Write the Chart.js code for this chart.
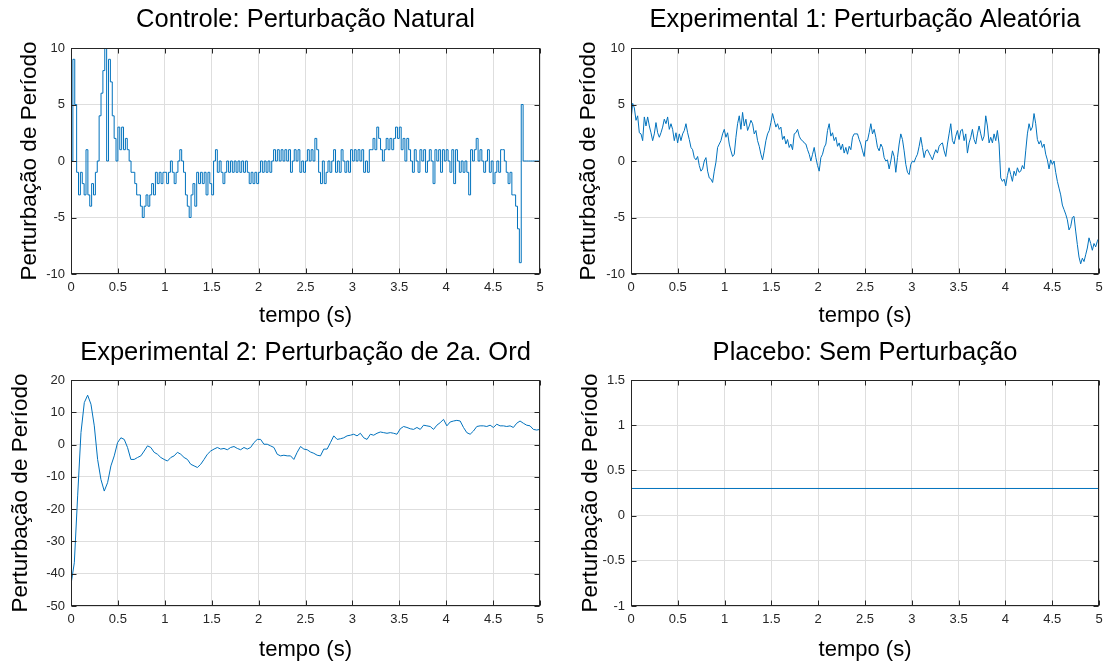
<!DOCTYPE html>
<html>
<head>
<meta charset="utf-8">
<script src="https://cdn.jsdelivr.net/npm/chart.js@4.4.1/dist/chart.umd.min.js"></script>
<style>
  html, body { margin: 0; padding: 0; background: #fff; }
  #wrap { position: relative; width: 1106px; height: 666px; overflow: hidden; }
  canvas { position: absolute; }
</style>
</head>
<body>
<div id="wrap">
  <!-- each canvas gets an empty right axis as wide as the left one, so the title centres on the plot box -->
  <canvas id="c1" width="611" height="333" style="left:0;top:0"></canvas>
  <canvas id="c2" width="624" height="333" style="left:553px;top:0"></canvas>
  <canvas id="c3" width="611" height="333" style="left:0;top:333px"></canvas>
  <canvas id="c4" width="624" height="333" style="left:553px;top:333px"></canvas>
</div>
<script>
// Panel titles and axis labels
const PANEL_TITLES = [
  'Controle: Perturbação Natural',
  'Experimental 1: Perturbação Aleatória',
  'Experimental 2: Perturbação de 2a. Ord',
  'Placebo: Sem Perturbação'
];
const X_LABEL = 'tempo (s)';
const Y_LABEL = 'Perturbação de Período';

// Tick labels
const X_TICKS = [0, 0.5, 1, 1.5, 2, 2.5, 3, 3.5, 4, 4.5, 5];
const Y_TICKS_10 = [-10, -5, 0, 5, 10];
const Y_TICKS_50 = [-50, -40, -30, -20, -10, 0, 10, 20];
const Y_TICKS_PLACEBO = [-1, -0.5, 0, 0.5, 1, 1.5];

// Controle: samples every 0.02 s (integer steps)
const CONTROLE_DT = 0.02;
const CONTROLE_Y = [
  0, 9, 5, -1, -3, -1, -2, -3, 1, -3,
  -4, -2, -3, -1, 0, 4, 6, 8, 10, 0,
  9, 7, 4, 2, 0, 3, 1, 3, 1, 2,
  1, 0, -1, -1, -2, -3, -3, -4, -5, -4,
  -3, -4, -3, -2, -3, -1, -2, -1, -2, -1,
  -1, -2, -1, 0, -1, -2, -1, 0, 1, 0,
  -1, -3, -4, -5, -3, -2, -4, -1, -2, -1,
  -2, -1, -3, -1, -2, -3, 0, 1, -1, 0,
  -1, -2, -1, 0, -1, 0, -1, 0, -1, 0,
  -1, 0, -1, 0, -1, -2, -1, -2, -1, -2,
  -1, 0, -1, 0, -1, 0, -1, 0, 1, 0,
  1, 0, 1, 0, 1, 0, 1, -1, 0, 1,
  0, 1, -1, 0, -1, 0, 1, 0, 1, 0,
  2, 1, -1, -2, 0, -2, -1, 0, -1, 0,
  1, -1, 0, -1, 1, 0, -1, 0, -1, 1,
  0, 1, 0, 1, 0, 1, -1, 0, -1, 1,
  1, 2, 1, 3, 2, 1, 0, 1, 2, 1,
  2, 1, 2, 3, 2, 3, 1, 2, 0, 2,
  1, 0, -1, 1, 0, -1, 1, 0, 1, -1,
  0, 1, 0, -2, 1, 0, 1, -1, 1, 0,
  1, 0, -1, 1, -2, 1, 0, -1, 0, -1,
  0, -1, -3, 1, 0, 1, 2, 0, 1, 0,
  -1, 0, 1, -1, 0, -2, -1, 0, -1, 1,
  1, 0, -1, -2, -1, -3, -3, -4, -6, -9,
  5, 0, 0, 0, 0, 0, 0, 0, 0, 0, 0
];

// Experimental 1: evenly sampled over 0..5 s
const ALEATORIA_Y = [
  3.6, 5.1, 4.7, 3.6, 4.0, 2.5, 2.4, 1.8, 3.9, 3.1,
  3.9, 3.1, 2.5, 1.8, 2.4, 3.4, 2.5, 2.1, 2.5, 3.0,
  3.7, 3.3, 3.9, 2.8, 3.3, 2.8, 1.8, 2.5, 1.6, 2.4,
  1.8, 2.4, 2.7, 3.3, 2.5, 1.9, 1.2, 1.0, 0.3, 0.1,
  0.4, -0.4, -0.9, -0.7, 0.0, 0.3, -0.9, -1.5, -1.6, -1.9,
  -0.9, -0.1, 1.2, 1.5, 1.8, 2.4, 2.8, 2.1, 2.5, 1.5,
  0.9, 0.4, 0.6, 2.1, 3.3, 4.0, 2.8, 4.3, 3.1, 3.7,
  2.7, 3.1, 3.6, 3.3, 2.4, 2.7, 1.8, 1.3, 0.6, 0.1,
  0.9, 1.8, 2.4, 2.7, 3.4, 4.2, 3.6, 3.0, 3.3, 2.8,
  3.0, 1.9, 2.2, 1.5, 1.9, 1.2, 1.5, 1.0, 2.4, 2.5,
  2.8, 2.2, 1.9, 1.8, 1.6, 1.5, 1.0, 0.6, 0.0, 0.6,
  1.2, 0.3, -0.4, -0.9, 0.3, 0.6, 1.2, 1.5, 2.7, 3.3,
  2.2, 2.5, 1.8, 2.1, 1.3, 1.6, 1.0, 1.5, 0.7, 1.2,
  0.6, 1.3, 1.0, 2.1, 2.4, 2.4, 2.4, 1.9, 1.5, 0.9,
  0.4, 1.8,
  1.8, 2.5, 3.3, 2.4, 2.8, 2.1, 1.2, 0.9, 1.5, 1.2,
  0.3, 0.0, 0.1, -0.7, 0.0, 0.9, 0.4, -1.0, 0.3, 1.5,
  2.4, 1.9, 0.9, -0.3, -1.0, -1.2, -0.3, 0.0, -0.1, 0.3,
  0.6, 1.3, 2.1, 1.2, 0.3, 0.9, 1.0, 0.7, 0.4, 0.1,
  0.6, 1.0, 0.7, 1.3, 1.5, 1.6, 0.9, 0.4, 1.5, 2.4,
  3.3, 1.8, 1.5, 2.2, 2.7, 1.9, 2.7, 2.8, 1.8, 2.4,
  0.7, 1.6, 2.1, 2.8, 1.9, 1.5, 2.4, 3.1, 2.4, 1.8,
  2.2, 4.0, 3.1, 1.6, 2.1, 1.6, 2.4, 1.8, 2.7, 1.5,
  -1.5, -1.8, -1.6, -2.2, -1.3, -0.6, -1.2, -1.8, -0.9, -1.3,
  -0.6, -1.0, -0.9, -0.4, -0.7, 0.9, 2.4, 3.3, 2.7, 3.0,
  4.2, 3.3, 1.9, 1.5, 1.8, 1.2, 1.5, 0.6, 0.1, -0.7,
  0.1, -0.3, 0.0, -1.0, -1.8, -2.4, -3.0, -3.9, -4.3, -4.7,
  -5.2, -6.1, -5.8, -5.0, -4.9, -6.2, -7.4, -8.5, -9.1, -8.6,
  -8.9, -8.3, -7.7, -6.8, -7.3, -7.9, -7.3, -7.6, -7.1, -6.8
];

// Experimental 2: evenly sampled over 0..5 s
const SEGUNDA_ORDEM_Y = [
  -43.3, -36.6, -15.9, 3.7, 13.0, 15.3, 12.5, 5.8, -4.6, -10.8,
  -14.4, -11.8, -6.6, -3.5, 0.6, 2.1, 1.6, -0.9, -4.6, -4.6,
  -4.0, -3.5, -2.0, -0.4, -0.9, -2.4, -3.0, -4.0, -4.6, -5.1,
  -4.0, -3.5, -2.4, -3.0, -4.0, -4.6, -6.1, -6.6, -7.1, -6.1,
  -4.6, -3.0, -2.0, -1.4, -0.9, -1.4, -1.2, -1.6, -0.9, -0.6,
  -1.2, -1.6, -0.9, -1.4, -0.9, 0.6, 1.6, 1.6, 0.1, 0.1,
  -0.4, -0.9, -3.0, -3.5, -3.3, -3.5, -3.5, -4.6, -2.4, -0.6,
  -1.4,
  -1.6, -2.3, -2.7, -3.3, -3.5, -1.4, -1.4, 0.6, 2.7, 1.6,
  1.8, 2.1, 2.7, 2.9, 3.2, 2.7, 3.5, 2.1, 1.6, 3.2,
  2.9, 3.5, 3.9, 3.7, 3.5, 3.7, 3.5, 3.2, 4.9, 5.6,
  5.3, 4.9, 4.7, 5.3, 4.7, 6.0, 5.8, 5.6, 4.7, 6.0,
  6.8, 7.8, 5.8, 7.0, 7.3, 7.5, 7.3, 5.3, 3.7, 3.2,
  4.2, 5.6, 5.8, 5.8, 5.6, 6.0, 5.3, 6.3, 5.8, 5.8,
  5.6, 5.8, 5.3, 6.6, 7.3, 6.6, 6.0, 5.8, 4.7, 4.5,
  4.7
];

// Placebo: constant
const PLACEBO_T = [0, 5];
const PLACEBO_Y = [0.3, 0.3];

const LINE_COLOR = '#0072BD';
const AXIS_COLOR = '#262626';
const FONT = "'Liberation Sans', Arial, Helvetica, sans-serif";

function evenPoints(values, span) {
  const dt = span / (values.length - 1);
  return values.map((y, i) => ({ x: i * dt, y }));
}

// MATLAB-style box and inward tick marks
const BOX_TICKS = {
  id: 'boxTicks',
  afterDraw(chart) {
    const { ctx, chartArea, scales } = chart;
    const L = Math.round(chartArea.left) + 0.5;
    const R = Math.round(chartArea.right) - 0.5;
    const T = Math.round(chartArea.top) + 0.5;
    const B = Math.round(chartArea.bottom) - 0.5;
    ctx.save();
    ctx.strokeStyle = AXIS_COLOR;
    ctx.lineWidth = 1;
    ctx.beginPath();
    scales.x.ticks.forEach(t => {
      const px = Math.round(scales.x.getPixelForValue(t.value)) + 0.5;
      ctx.moveTo(px, B); ctx.lineTo(px, B - 5);
      ctx.moveTo(px, T); ctx.lineTo(px, T + 5);
    });
    scales.y.ticks.forEach(t => {
      const py = Math.round(scales.y.getPixelForValue(t.value)) + 0.5;
      ctx.moveTo(L, py); ctx.lineTo(L + 5, py);
      ctx.moveTo(R, py); ctx.lineTo(R - 5, py);
    });
    ctx.stroke();
    ctx.strokeRect(L, T, R - L, B - T);
    ctx.restore();
  }
};

function makePanel(id, cfg) {
  const yMin = cfg.yTicks[0];
  const yMax = cfg.yTicks[cfg.yTicks.length - 1];
  return new Chart(document.getElementById(id), {
    type: 'line',
    data: {
      datasets: [{
        data: cfg.points,
        borderColor: LINE_COLOR,
        borderWidth: 1,
        pointRadius: 0,
        tension: 0,
        stepped: cfg.stepped || false,
        fill: false
      }]
    },
    options: {
      responsive: false,
      animation: false,
      events: [],
      layout: { padding: 0 },
      plugins: {
        legend: { display: false },
        tooltip: { enabled: false },
        title: {
          display: true,
          text: cfg.title,
          color: '#000',
          font: { family: FONT, size: 25.5, weight: 'normal' },
          padding: { top: cfg.titleTop, bottom: cfg.titleBottom }
        }
      },
      scales: {
        x: {
          type: 'linear',
          min: 0,
          max: 5,
          afterBuildTicks: s => { s.ticks = X_TICKS.map(v => ({ value: v })); },
          afterFit: s => { s.height = cfg.xHeight; },
          grid: { color: '#dedede', drawTicks: false },
          border: { display: false },
          ticks: {
            color: AXIS_COLOR,
            padding: 6,
            maxRotation: 0,
            font: { family: FONT, size: 13 },
            callback: v => String(+v.toFixed(2))
          },
          title: {
            display: true,
            text: X_LABEL,
            color: '#000',
            font: { family: FONT, size: 22 },
            padding: { top: 0, bottom: cfg.xTitlePad }
          }
        },
        y: {
          min: yMin,
          max: yMax,
          afterBuildTicks: s => { s.ticks = cfg.yTicks.map(v => ({ value: v })); },
          afterFit: s => { s.width = cfg.yWidth; },
          grid: { color: '#dedede', drawTicks: false },
          border: { display: false },
          ticks: {
            color: AXIS_COLOR,
            padding: 6,
            font: { family: FONT, size: 13 },
            callback: v => String(+v.toFixed(2))
          },
          title: {
            display: true,
            text: Y_LABEL,
            color: '#000',
            font: { family: FONT, size: 22.5 },
            padding: { top: cfg.yTitlePad, bottom: 0 }
          }
        },
        // empty spacer on the right, same width as the left axis
        yRight: {
          position: 'right',
          min: yMin,
          max: yMax,
          afterFit: s => { s.width = cfg.yWidth; },
          grid: { display: false, drawTicks: false },
          border: { display: false },
          ticks: { display: false }
        }
      }
    },
    plugins: [BOX_TICKS]
  });
}

makePanel('c1', {
  title: PANEL_TITLES[0],
  points: CONTROLE_Y.map((y, i) => ({ x: i * CONTROLE_DT, y })),
  stepped: true,
  yTicks: Y_TICKS_10,
  yWidth: 71, xHeight: 59,
  titleTop: 5, titleBottom: 12.4, xTitlePad: 3.5, yTitlePad: 16.5
});
makePanel('c2', {
  title: PANEL_TITLES[1],
  points: evenPoints(ALEATORIA_Y, 5),
  yTicks: Y_TICKS_10,
  yWidth: 78, xHeight: 59,
  titleTop: 5, titleBottom: 12.4, xTitlePad: 3.5, yTitlePad: 22.5
});
makePanel('c3', {
  title: PANEL_TITLES[2],
  points: evenPoints(SEGUNDA_ORDEM_Y, 5),
  yTicks: Y_TICKS_50,
  yWidth: 71, xHeight: 60,
  titleTop: 5, titleBottom: 11.4, xTitlePad: 2.5, yTitlePad: 7.5
});
makePanel('c4', {
  title: PANEL_TITLES[3],
  points: PLACEBO_T.map((t, i) => ({ x: t, y: PLACEBO_Y[i] })),
  yTicks: Y_TICKS_PLACEBO,
  yWidth: 78, xHeight: 60,
  titleTop: 5, titleBottom: 11.4, xTitlePad: 2.5, yTitlePad: 24.5
});
</script>
</body>
</html>
